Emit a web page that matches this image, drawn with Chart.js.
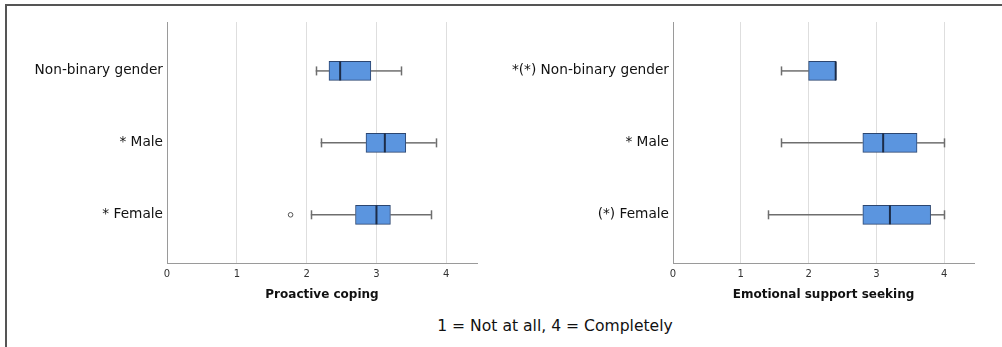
<!DOCTYPE html>
<html>
<head>
<meta charset="utf-8">
<script src="https://cdn.jsdelivr.net/npm/chart.js@4"></script>
<style>
  body { margin: 0; background: #fff; }
  #wrap { position: relative; width: 1002px; height: 347px; overflow: hidden; background: #fff; }
  #frame { position: absolute; left: 5px; top: 4px; width: 1000px; height: 350px;
           border-top: 2px solid #555; border-left: 2px solid #555; }
  canvas { position: absolute; top: 0; }
  #c1 { left: 0; }
  #c2 { left: 500px; }
  #note { position: absolute; left: 355px; width: 400px; top: 317px; text-align: center;
          font: 15.6px "DejaVu Sans", sans-serif; color: #111; }
</style>
</head>
<body>
<div id="wrap">
  <div id="frame"></div>
  <canvas id="c1" width="500" height="310"></canvas>
  <canvas id="c2" width="502" height="310"></canvas>
  <div id="note">1 = Not at all, 4 = Completely</div>
</div>
<script>
// ---------- data ----------
const labelsLeft  = ['Non-binary gender', '* Male', '* Female'];
const labelsRight = ['*(*) Non-binary gender', '* Male', '(*) Female'];

// proactive coping: min, q1, median, q3, max per group
const pcMin = [2.13, 2.20, 2.06];
const pcQ1  = [2.32, 2.85, 2.70];
const pcMed = [2.48, 3.12, 3.00];
const pcQ3  = [2.92, 3.42, 3.20];
const pcMax = [3.35, 3.85, 3.78];
const pcOutliers = [{ group: 3, value: 1.77 }];

// emotional support seeking
const esMin = [1.60, 1.60, 1.40];
const esQ1  = [2.00, 2.80, 2.80];
const esMed = [2.40, 3.10, 3.20];
const esQ3  = [2.40, 3.60, 3.80];
const esMax = [2.40, 4.00, 4.00];
const esOutliers = [];

const xTicks = [0, 1, 2, 3, 4];

const FONT = '"DejaVu Sans", sans-serif';
const BOX_H = 19;

// whiskers behind, median on top of the boxes
const boxParts = {
  id: 'boxParts',
  beforeDatasetsDraw(chart, args, o) {
    const { ctx, scales: { x, y } } = chart;
    ctx.save();
    ctx.strokeStyle = '#6e6e6e';
    ctx.lineWidth = 1.5;
    o.min.forEach((mn, i) => {
      const cy = y.getPixelForValue(i + 1);
      const segs = [[mn, o.q1[i]], [o.q3[i], o.max[i]]];
      segs.forEach(([a, b]) => {
        if (b - a <= 0) return;
        ctx.beginPath();
        ctx.moveTo(x.getPixelForValue(a), cy);
        ctx.lineTo(x.getPixelForValue(b), cy);
        ctx.stroke();
      });
      [mn, o.max[i]].forEach(v => {
        if (v === o.q1[i] || v === o.q3[i]) return;
        const px = Math.round(x.getPixelForValue(v)) + 0.5;
        ctx.beginPath();
        ctx.moveTo(px, cy - 4.5);
        ctx.lineTo(px, cy + 4.5);
        ctx.stroke();
      });
    });
    ctx.restore();
  },
  afterDatasetsDraw(chart, args, o) {
    const { ctx, scales: { x, y } } = chart;
    ctx.save();
    ctx.strokeStyle = '#1c2c48';
    ctx.lineWidth = 2;
    o.med.forEach((m, i) => {
      const cy = y.getPixelForValue(i + 1);
      const px = x.getPixelForValue(m);
      ctx.beginPath();
      ctx.moveTo(px, cy - BOX_H / 2);
      ctx.lineTo(px, cy + BOX_H / 2);
      ctx.stroke();
    });
    ctx.restore();
  }
};

function makeBox(id, cats, mn, q1, med, q3, mx, outl, title, yWidth, padRight) {
  return new Chart(document.getElementById(id), {
    type: 'bar',
    data: {
      datasets: [
        {
          type: 'bar',
          data: q1.map((v, i) => ({ x: [v, q3[i]], y: i + 1 })),
          backgroundColor: '#5b95df',
          borderColor: '#2c4670',
          borderWidth: 1,
          borderSkipped: false,
          barThickness: BOX_H
        },
        {
          type: 'scatter',
          data: outl.map(p => ({ x: p.value, y: p.group })),
          pointStyle: 'circle',
          pointRadius: 2.3,
          pointBackgroundColor: '#fff',
          pointBorderColor: '#555',
          pointBorderWidth: 1
        }
      ]
    },
    options: {
      indexAxis: 'y',
      responsive: false,
      animation: false,
      layout: { padding: { top: 22, right: padRight, left: 0, bottom: 0 } },
      plugins: {
        legend: { display: false },
        tooltip: { enabled: false },
        boxParts: { min: mn, q1: q1, med: med, q3: q3, max: mx }
      },
      scales: {
        x: {
          type: 'linear', min: 0, max: 4.44, offset: false,
          afterBuildTicks: s => { s.ticks = xTicks.map(v => ({ value: v })); },
          afterFit: s => { s.height = 47; },
          grid: { color: '#dedede', lineWidth: 1, drawTicks: false },
          border: { color: '#9a9a9a', width: 1 },
          ticks: { padding: 5, font: { family: FONT, size: 10 }, color: '#333' },
          title: { display: true, text: title, color: '#111',
                   font: { family: FONT, size: 12, weight: 'bold' },
                   padding: { top: 0, bottom: 8 } }
        },
        y: {
          type: 'linear', min: 0.32, max: 3.67, reverse: true, offset: false,
          afterBuildTicks: s => { s.ticks = cats.map((c, i) => ({ value: i + 1 })); },
          afterFit: s => { s.width = yWidth; },
          grid: { display: false, drawTicks: false },
          border: { color: '#9a9a9a', width: 1 },
          ticks: { padding: 4, font: { family: FONT, size: 13.7 }, color: '#111',
                   callback: v => cats[v - 1] }
        }
      }
    },
    plugins: [boxParts]
  });
}

makeBox('c1', labelsLeft, pcMin, pcQ1, pcMed, pcQ3, pcMax, pcOutliers, 'Proactive coping', 167, 23);
makeBox('c2', labelsRight, esMin, esQ1, esMed, esQ3, esMax, esOutliers, 'Emotional support seeking', 173, 28);
</script>
</body>
</html>
